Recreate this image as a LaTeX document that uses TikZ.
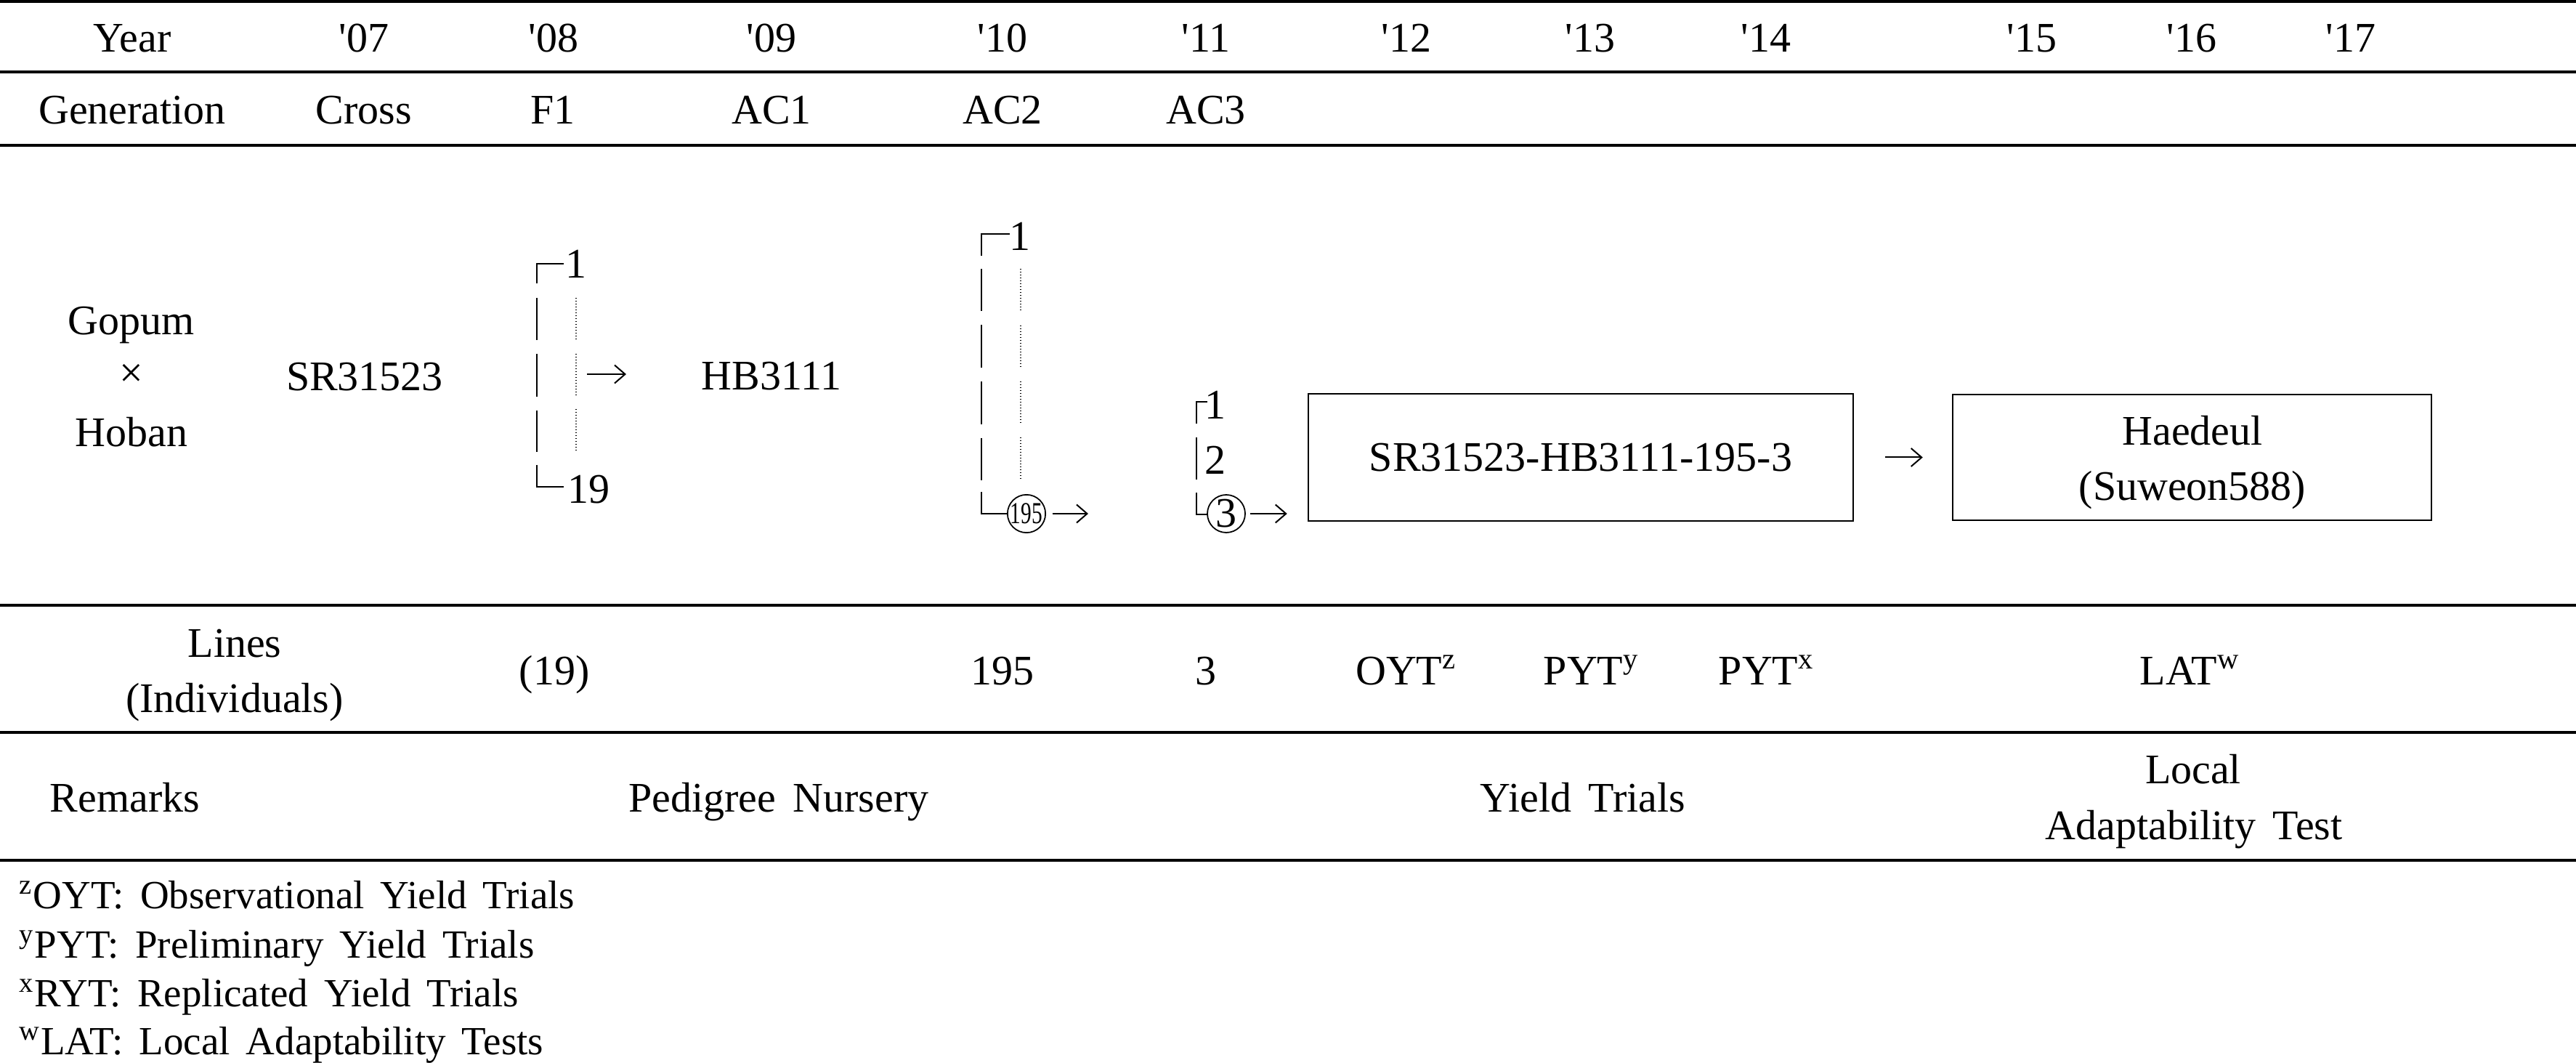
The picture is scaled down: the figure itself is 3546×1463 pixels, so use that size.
\documentclass[tikz,border=0pt]{standalone}
\usepackage{fontspec}
\usepackage{graphicx}
\setmainfont[WordSpace=1.6]{Liberation Serif}
\usetikzlibrary{arrows.meta}
\begin{document}
\begin{tikzpicture}[x=0.2pt,y=-0.2pt,
  txt/.style={font=\fontsize{11.6}{14}\selectfont, inner sep=0pt, anchor=base},
  rule/.style={line width=0.65pt},
  brk/.style={line width=0.5pt},
  dashedbrk/.style={line width=0.5pt, dash pattern=on 11.7pt off 3.8pt},
  dots/.style={line width=0.3pt, dash pattern=on 0.3pt off 0.5pt},
  arr/.style={line width=0.4pt, -{Straight Barb[length=2.9pt,width=5pt]}},
  fn/.style={font=\fontsize{11}{12}\selectfont, inner sep=0pt, anchor=base west},
  boxn/.style={draw, line width=0.5pt, inner sep=0pt, align=center, font=\fontsize{11.6}{15}\selectfont},
  circ/.style={draw, circle, line width=0.35pt, inner sep=0pt}
]
\useasboundingbox (0,0) rectangle (3546,1463);

% table rules
\draw[rule] (0,2) -- (3546,2);
\draw[rule] (0,99) -- (3546,99);
\draw[rule] (0,200) -- (3546,200);
\draw[rule] (0,833) -- (3546,833);
\draw[rule] (0,1008) -- (3546,1008);
\draw[rule] (0,1184) -- (3546,1184);

% year row
\node[txt] (year) at (182,72) {Year};
\node[txt] (y07) at (501,72) {\textquotesingle07};
\node[txt] (y08) at (762,72) {\textquotesingle08};
\node[txt] (y09) at (1062,72) {\textquotesingle09};
\node[txt] (y10) at (1380,72) {\textquotesingle10};
\node[txt] (y11) at (1660,72) {\textquotesingle11};
\node[txt] (y12) at (1936,72) {\textquotesingle12};
\node[txt] (y13) at (2189,72) {\textquotesingle13};
\node[txt] (y14) at (2431,72) {\textquotesingle14};
\node[txt] (y15) at (2797,72) {\textquotesingle15};
\node[txt] (y16) at (3017,72) {\textquotesingle16};
\node[txt] (y17) at (3236,72) {\textquotesingle17};

% generation row
\node[txt] (gen) at (182,171) {Generation};
\node[txt] (gcross) at (501,171) {Cross};
\node[txt] (gf1) at (761,171) {F1};
\node[txt] (gac1) at (1062,171) {AC1};
\node[txt] (gac2) at (1380,171) {AC2};
\node[txt] (gac3) at (1660,171) {AC3};

% parents and cross
\node[txt] (gopum) at (181,461) {Gopum};
\node[txt] (times) at (181,533) {×};
\node[txt] (hoban) at (181,615) {Hoban};
\node[txt] (sr) at (502,538) {SR31523};
\node[txt] (hb) at (1062,537) {HB3111};

% F1 bracket
\draw[brk] (739,390) -- (739,363) -- (776,363);
\draw[dashedbrk] (739,410) -- (739,622);
\draw[brk] (739,640) -- (739,670) -- (776,670);
\draw[dots] (793,410) -- (793,468);
\draw[dots] (793,487) -- (793,545);
\draw[dots] (793,563) -- (793,621);
\node[txt] (f1one) at (793,383) {1};
\node[txt] (f1last) at (810,692) {19};
\coordinate (f1a) at (808,515);
\coordinate (f1b) at (862,515);
\draw[arr] (f1a) -- (f1b);

% AC2 bracket
\draw[brk] (1351,352) -- (1351,322) -- (1390,322);
\draw[dashedbrk] (1351,370) -- (1351,661);
\draw[brk] (1351,677) -- (1351,707) -- (1386,707);
\draw[dots] (1405,370) -- (1405,429);
\draw[dots] (1405,448) -- (1405,506);
\draw[dots] (1405,525) -- (1405,583);
\draw[dots] (1405,602) -- (1405,660);
\node[txt] (ac2one) at (1404,345) {1};
\node[circ, minimum size=9.4pt] (c195) at (1413,707) {\scalebox{0.7}[1]{\fontsize{8.4}{8.4}\selectfont 195}};
\coordinate (ac2b) at (1498,707);
\draw[arr, shorten <=1.7pt] (c195.east) -- (ac2b);

% AC3 bracket
\draw[brk] (1647,583) -- (1647,553) -- (1662,553);
\draw[brk] (1647,602) -- (1647,660);
\draw[brk] (1647,678) -- (1647,708) -- (1663,708);
\node[txt] (ac3one) at (1673,577) {1};
\node[txt] (ac3two) at (1673,653) {2};
\node[circ, minimum size=10.4pt, font=\fontsize{11.6}{11.6}\selectfont] (c3) at (1688,707) {3};

% boxes
\node[boxn, minimum width=150pt, minimum height=35pt] (box1) at (2176,629.5) {SR31523-HB3111-195-3};
\node[boxn, minimum width=131.8pt, minimum height=34.6pt] (box2) at (3017.5,629.5) {};
\node[txt] (haedeul) at (3018,613) {Haedeul};
\node[txt] (suweon) at (3018,689) {(Suweon588)};
\draw[arr, shorten <=1.2pt, shorten >=5.6pt] (c3.east) -- (c3.east -| box1.west);
\draw[arr, shorten <=8.6pt, shorten >=8pt] (box1.east) -- (box2.west);

% lines row
\node[txt] (lines) at (323,904) {Lines};
\node[txt] (indiv) at (323,980) {(Individuals)};
\node[txt] (n19) at (763,942) {(19)};
\node[txt] (n195) at (1380,942) {195};
\node[txt] (n3) at (1660,942) {3};
\node[txt] (oyt) at (1936,942) {OYT\textsuperscript{z}};
\node[txt] (pyt1) at (2191,942) {PYT\textsuperscript{y}};
\node[txt] (pyt2) at (2432,942) {PYT\textsuperscript{x}};
\node[txt] (lat) at (3015,942) {LAT\textsuperscript{w}};

% remarks row
\node[txt] (remarks) at (172,1117) {Remarks};
\node[txt] (pedigree) at (1072,1117) {Pedigree Nursery};
\node[txt] (yield) at (2179,1117) {Yield Trials};
\node[txt] (local) at (3019,1078) {Local};
\node[txt] (adapt) at (3020,1155) {Adaptability Test};

% footnotes
\node[fn] (fnz) at (25,1250) {\textsuperscript{z}OYT: Observational Yield Trials};
\node[fn] (fny) at (25,1318) {\textsuperscript{y}PYT: Preliminary Yield Trials};
\node[fn] (fnx) at (25,1385) {\textsuperscript{x}RYT: Replicated Yield Trials};
\node[fn] (fnw) at (25,1451) {\textsuperscript{w}LAT: Local Adaptability Tests};
\end{tikzpicture}
\end{document}
